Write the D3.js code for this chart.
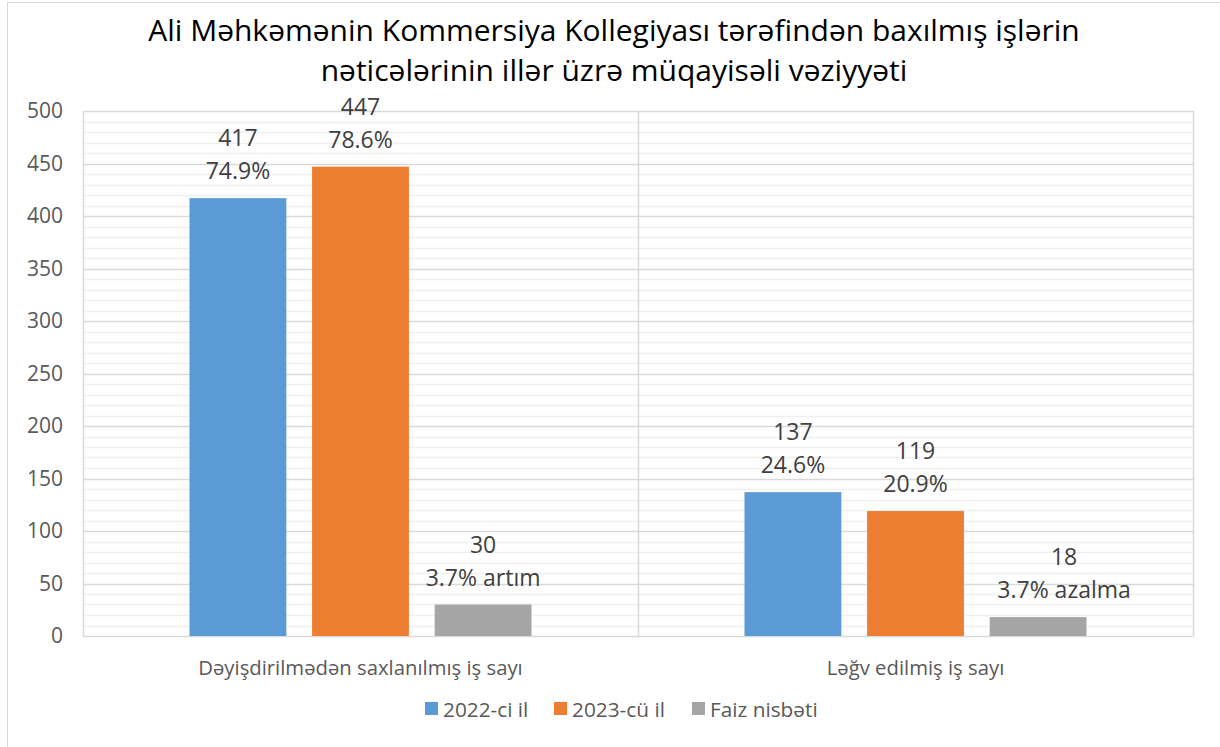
<!DOCTYPE html>
<html>
<head>
<meta charset="utf-8">
<script src="https://cdn.jsdelivr.net/npm/d3@7"></script>
<style>
  body { margin: 0; background: #fff; }
  svg { display: block; font-family: "Open Sans", sans-serif; }
</style>
</head>
<body>
<svg id="chart"></svg>
<script>
const titleLines = [
  "Ali Məhkəmənin Kommersiya Kollegiyası tərəfindən baxılmış işlərin",
  "nəticələrinin illər üzrə müqayisəli vəziyyəti"
];
const categories = ["Dəyişdirilmədən saxlanılmış iş sayı", "Ləğv edilmiş iş sayı"];
const seriesNames = ["2022-ci il", "2023-cü il", "Faiz nisbəti"];
const values2022 = [417, 137];
const values2023 = [447, 119];
const valuesFaiz = [30, 18];
const notes2022 = ["74.9%", "24.6%"];
const notes2023 = ["78.6%", "20.9%"];
const notesFaiz = ["3.7% artım", "3.7% azalma"];
const yTicks = [0, 50, 100, 150, 200, 250, 300, 350, 400, 450, 500];

const colors = ["#5B9BD5", "#ED7D31", "#A5A5A5"];
const width = 1220, height = 747;
const margin = { top: 111, right: 27, bottom: 111, left: 83 };

const svg = d3.select("#chart").attr("width", width).attr("height", height);

// outer chart border
svg.append("rect")
  .attr("x", 7.5).attr("y", 2.5)
  .attr("width", 1230).attr("height", 760)
  .attr("fill", "none").attr("stroke", "#d9d9d9");

const rows = [];
categories.forEach((c, i) => {
  rows.push({ cat: c, ci: i, s: seriesNames[0], v: values2022[i], note: notes2022[i] });
  rows.push({ cat: c, ci: i, s: seriesNames[1], v: values2023[i], note: notes2023[i] });
  rows.push({ cat: c, ci: i, s: seriesNames[2], v: valuesFaiz[i], note: notesFaiz[i] });
});

const x0 = d3.scaleBand().domain(categories)
  .range([margin.left, width - margin.right]).padding(0);
const groupPad = 106.5;
const x1 = d3.scaleBand().domain(seriesNames)
  .range([groupPad, x0.bandwidth() - groupPad]).paddingInner(0.21).paddingOuter(0);
const y = d3.scaleLinear().domain([0, 500]).range([height - margin.bottom, margin.top]);
const color = d3.scaleOrdinal().domain(seriesNames).range(colors);

const plotL = margin.left, plotR = width - margin.right;

// minor gridlines
const minor = d3.range(10, 500, 10).filter(d => d % 50 !== 0);
svg.append("g").selectAll("line").data(minor).join("line")
  .attr("x1", plotL).attr("x2", plotR)
  .attr("y1", d => Math.round(y(d)) + 0.5).attr("y2", d => Math.round(y(d)) + 0.5)
  .attr("stroke", "#f0f0f0").attr("stroke-width", 1.5);

// major gridlines
svg.append("g").selectAll("line").data(yTicks).join("line")
  .attr("x1", plotL).attr("x2", plotR)
  .attr("y1", d => Math.round(y(d)) + 0.5).attr("y2", d => Math.round(y(d)) + 0.5)
  .attr("stroke", "#d9d9d9").attr("stroke-width", 1.5);

// vertical lines at category boundaries
const vx = [plotL, plotL + x0.step(), plotR];
svg.append("g").selectAll("line").data(vx).join("line")
  .attr("x1", d => d + 0.5).attr("x2", d => d + 0.5)
  .attr("y1", y(500)).attr("y2", y(0))
  .attr("stroke", "#d9d9d9").attr("stroke-width", 1.5);

// y axis labels
const yAxis = svg.append("g")
  .attr("transform", `translate(${plotL - 20},0)`)
  .call(d3.axisLeft(y).tickValues(yTicks).tickSize(0).tickPadding(0));
yAxis.select(".domain").remove();
yAxis.selectAll("text")
  .attr("font-family", "Open Sans").attr("font-size", 21).attr("fill", "#595959");

// bars
const groups = svg.append("g").selectAll("g").data(rows).join("g")
  .attr("transform", d => `translate(${x0(d.cat) + x1(d.s)},0)`);

groups.append("rect")
  .attr("x", 0).attr("width", x1.bandwidth())
  .attr("y", d => y(d.v)).attr("height", d => y(0) - y(d.v))
  .attr("fill", d => color(d.s));

// data labels (the "azalma" label sits a bit to the right in the original)
const labelShift = d => (d.s === seriesNames[2] && d.ci === 1) ? 26 : 0;
const lbl = groups.append("text")
  .attr("text-anchor", "middle")
  .attr("font-size", 23).attr("fill", "#404040");
lbl.append("tspan")
  .attr("x", d => x1.bandwidth() / 2 + labelShift(d)).attr("y", d => y(d.v) - 52)
  .text(d => d.v);
lbl.append("tspan")
  .attr("x", d => x1.bandwidth() / 2 + labelShift(d)).attr("y", d => y(d.v) - 19)
  .text(d => d.note);

// category labels
svg.append("g").selectAll("text").data(categories).join("text")
  .attr("x", d => x0(d) + x0.bandwidth() / 2).attr("y", 675)
  .attr("text-anchor", "middle")
  .attr("font-size", 20.3).attr("fill", "#595959")
  .text(d => d);

// title
svg.append("text")
  .attr("text-anchor", "middle").attr("font-size", 30).attr("fill", "#000")
  .selectAll("tspan").data(titleLines).join("tspan")
  .attr("x", 614).attr("y", (d, i) => 41 + i * 40)
  .text(d => d);

// legend
const legendX = [425, 554, 692];
const legend = svg.append("g").selectAll("g").data(seriesNames).join("g")
  .attr("transform", (d, i) => `translate(${legendX[i]},702)`);
legend.append("rect")
  .attr("width", 13).attr("height", 13).attr("fill", d => color(d));
legend.append("text")
  .attr("x", 18).attr("y", 15)
  .attr("font-size", 20.8).attr("fill", "#595959")
  .text(d => d);
</script>
</body>
</html>
